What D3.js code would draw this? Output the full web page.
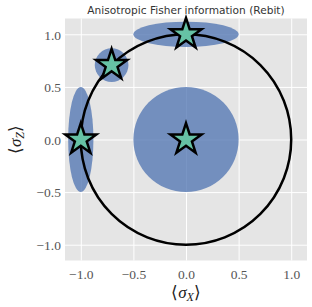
<!DOCTYPE html>
<html><head><meta charset="utf-8">
<script src="https://cdn.jsdelivr.net/npm/d3@7"></script>
<style>body{margin:0;background:#fff}svg{display:block}</style>
</head><body>
<svg id="c" width="312" height="307"></svg>
<script>
// Data
const xTicks = [-1.0, -0.5, 0.0, 0.5, 1.0];
const yTicks = [-1.0, -0.5, 0.0, 0.5, 1.0];
const tickLabels = ["\u22121.0", "\u22120.5", "0.0", "0.5", "1.0"];
const stateX = [0, 0, -1, -0.707];
const stateZ = [0, 1, 0, 0.707];
const ellipseRx = [0.5, 0.5, 0.12, 0.16];
const ellipseRz = [0.5, 0.12, 0.5, 0.16];
const circleRadius = 1;
const title = "Anisotropic Fisher information (Rebit)";

const svg = d3.select("#c");
const L = 65, R = 307, T = 18.5, B = 260.5;
const x = d3.scaleLinear().domain([-1.15, 1.15]).range([L, R]);
const y = d3.scaleLinear().domain([-1.15, 1.15]).range([B, T]);

svg.append("rect").attr("x", L).attr("y", T).attr("width", R - L).attr("height", B - T).attr("fill", "#e5e5e5");

const gx = svg.append("g").attr("transform", `translate(0,${B})`)
  .call(d3.axisBottom(x).tickValues(xTicks).tickSize(-(B - T)).tickFormat((d, i) => tickLabels[i]));
const gy = svg.append("g").attr("transform", `translate(${L},0)`)
  .call(d3.axisLeft(y).tickValues(yTicks).tickSize(-(R - L)).tickFormat((d, i) => tickLabels[i]));
[gx, gy].forEach(g => {
  g.select(".domain").remove();
  g.selectAll(".tick line").attr("stroke", "#ffffff").attr("stroke-width", 1);
  g.selectAll(".tick text").attr("fill", null).style("fill", "#555555")
    .style("font-family", "'Liberation Serif', serif").style("font-size", "13.5px");
});
gx.selectAll(".tick text").attr("dy", "0").attr("y", 18);
gy.selectAll(".tick text").attr("x", -4).attr("dy", "0.35em");

const plot = svg.append("g");
const data = stateX.map((d, i) => ({x: d, z: stateZ[i], rx: ellipseRx[i], rz: ellipseRz[i]}));

plot.selectAll("ellipse.e").data(data).join("ellipse")
  .attr("cx", d => x(d.x)).attr("cy", d => y(d.z))
  .attr("rx", d => x(d.rx) - x(0)).attr("ry", d => y(0) - y(d.rz))
  .attr("fill", "#4c72b0").attr("fill-opacity", 0.75);

plot.append("ellipse")
  .attr("cx", x(0)).attr("cy", y(0))
  .attr("rx", x(circleRadius) - x(0)).attr("ry", y(0) - y(circleRadius))
  .attr("fill", "none").attr("stroke", "#000").attr("stroke-width", 2.5);

const star = d3.symbol().type(d3.symbolStar).size(300);
plot.selectAll("path.s").data(data).join("path")
  .attr("transform", d => `translate(${x(d.x)},${y(d.z)})`)
  .attr("d", star)
  .attr("fill", "#66c2a5").attr("stroke", "#000").attr("stroke-width", 2.5).attr("stroke-linejoin", "miter");

svg.append("text").attr("x", (L + R) / 2).attr("y", 14).attr("text-anchor", "middle")
  .style("fill", "#333").style("font-family", "'DejaVu Sans', sans-serif").style("font-size", "10.6px").text(title);

const xl = svg.append("text").attr("x", (L + R) / 2).attr("y", 298).attr("text-anchor", "middle")
  .style("fill", "#222").style("font-family", "'Liberation Serif', serif").style("font-size", "17px");
xl.append("tspan").text("\u27E8");
xl.append("tspan").style("font-style", "italic").text("\u03C3");
xl.append("tspan").style("font-style", "italic").style("font-size", "12px").attr("dy", 3).text("X");
xl.append("tspan").attr("dy", -3).text("\u27E9");

const yl = svg.append("text").attr("transform", `translate(21,${(T + B) / 2}) rotate(-90)`).attr("text-anchor", "middle")
  .style("fill", "#222").style("font-family", "'Liberation Serif', serif").style("font-size", "17px");
yl.append("tspan").text("\u27E8");
yl.append("tspan").style("font-style", "italic").text("\u03C3");
yl.append("tspan").style("font-style", "italic").style("font-size", "12px").attr("dy", 3).text("Z");
yl.append("tspan").attr("dy", -3).text("\u27E9");
</script>
</body></html>
